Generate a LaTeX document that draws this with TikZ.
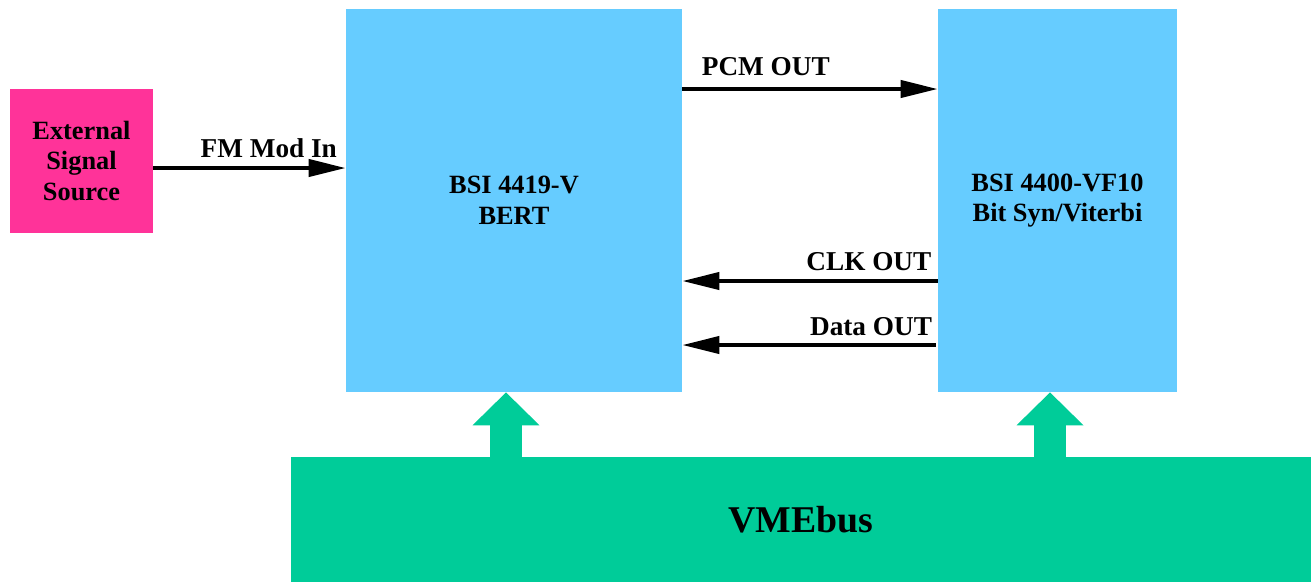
\documentclass[tikz,border=0pt]{standalone}
\usepackage{fontspec}
\setmainfont{Liberation Serif}
\definecolor{srcpink}{RGB}{255,51,153}
\definecolor{boardblue}{RGB}{102,204,255}
\definecolor{busgreen}{RGB}{0,204,153}
\usetikzlibrary{arrows.meta,positioning}

\begin{document}
\begin{tikzpicture}[x=0.02cm,y=-0.02cm,
    blk/.style={fill=boardblue,inner sep=0pt,align=center,
      font=\fontsize{15}{17.5}\selectfont\bfseries},
    sig/.style={line width=0.08cm,-{Triangle[length=0.74cm,width=0.34cm]}},
    lbl/.style={font=\fontsize{15.5}{17.5}\selectfont\bfseries,inner sep=0pt},
    busarrow/.style={busgreen,line width=0.64cm,-{Triangle[length=0.66cm,width=1.3cm]}}]
  \useasboundingbox (0,0) rectangle (1311,582);

  % boards
  \node[blk,fill=srcpink,minimum width=2.86cm,minimum height=2.88cm] (src) at (81.5,161)
    {External\\Signal\\Source};
  \node[blk,minimum width=6.72cm,minimum height=7.66cm] (bert) at (514,200.5)
    {BSI 4419-V\\BERT};
  \node[blk,minimum width=4.78cm,minimum height=7.66cm] (vit) at (1057.5,200.5)
    {BSI 4400-VF10\\Bit Syn/Viterbi};
  \node[blk,fill=busgreen,minimum width=20.4cm,minimum height=2.5cm,
    font=\fontsize{21.5}{26}\selectfont\bfseries] (vme) at (801,519.5) {VMEbus};

  % signal rows
  \coordinate (fm) at (0,168);
  \coordinate (pcm) at (0,89);
  \coordinate (clk) at (0,281);
  \coordinate (dat) at (0,345);

  \draw[sig] (src.east |- fm) -- (bert.west |- fm)
    node[lbl,pos=0.6,above=4.5pt] (fmlbl) {FM Mod In};
  \draw[sig] (bert.east |- pcm) -- (vit.west |- pcm)
    node[lbl,pos=0,above right=6.5pt and 10pt] (pcmlbl) {PCM OUT};
  \draw[sig] (vit.west |- clk) -- (bert.east |- clk)
    node[lbl,pos=0,above left=4.5pt and 2.5pt] (clklbl) {CLK OUT};
  \draw[sig] ([xshift=-0.04cm]vit.west |- dat) -- (bert.east |- dat)
    node[lbl,pos=0,above left=4pt and 1pt] (datlbl) {Data OUT};

  % bus connections
  \coordinate (b1) at (506,0);
  \coordinate (b2) at (1050,0);
  \draw[busarrow] (vme.north -| b1) -- (bert.south -| b1);
  \draw[busarrow] (vme.north -| b2) -- (vit.south -| b2);
\end{tikzpicture}
\end{document}
